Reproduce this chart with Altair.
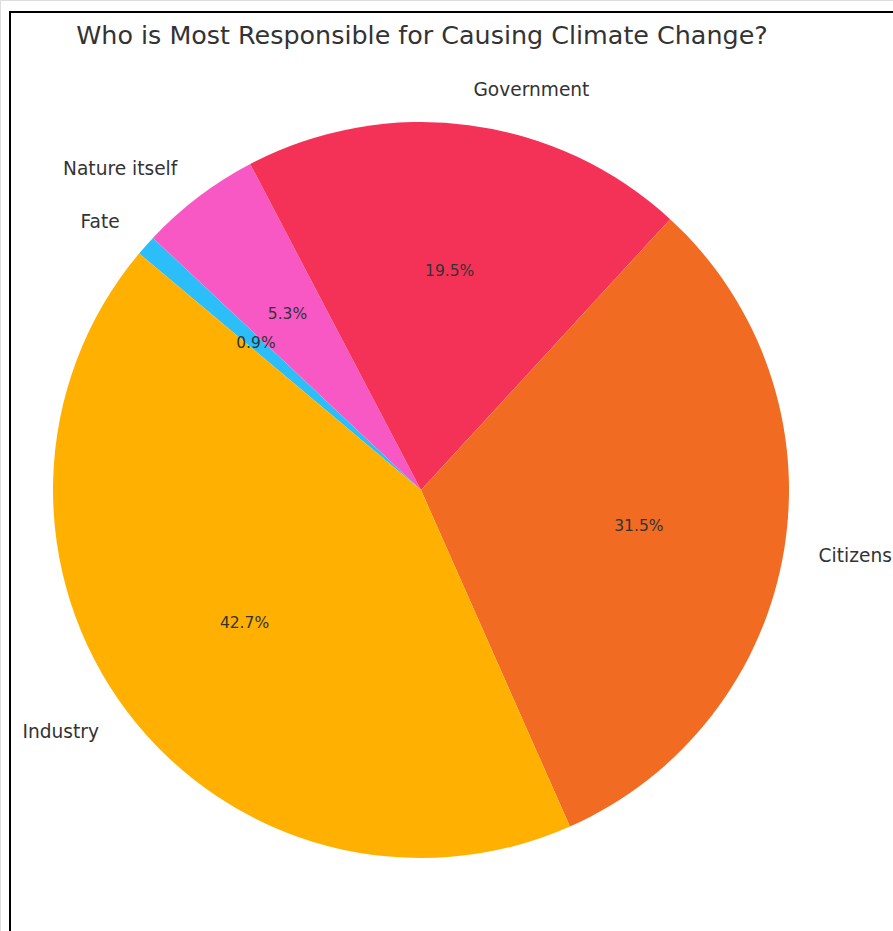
import math
import altair as alt
import pandas as pd

categories = ["Fate", "Nature itself", "Government", "Citizens", "Industry"]
shares = [0.9, 5.3, 19.5, 31.5, 42.7]
colors = ["#2BBEF9", "#F858C4", "#F43257", "#F26B22", "#FFB000"]
sides = ["right", "right", "left", "left", "right"]
title_text = "Who is Most Responsible for Causing Climate Change?"

df = pd.DataFrame({
    "cat": categories,
    "share": shares,
    "ord": list(range(len(categories))),
    "pct": [f"{v:.1f}%" for v in shares],
    "side": sides,
})

CX, CY, R = 421, 490, 368
start = math.radians(90 - 140)
theta_scale = alt.Scale(range=[start, start + 2 * math.pi])
FONT = "DejaVu Sans"
TXT = "#333333"

base = alt.Chart(df).encode(
    theta=alt.Theta("share:Q", stack=True, scale=theta_scale),
    order=alt.Order("ord:Q"),
    x=alt.value(CX),
    y=alt.value(CY),
)

arcs = base.mark_arc(radius=R).encode(
    color=alt.Color("cat:N", scale=alt.Scale(domain=categories, range=colors), legend=None)
)

pct = base.mark_text(font=FONT, fontSize=15.5, color=TXT, baseline="middle", align="center").encode(
    radius=alt.value(R * 0.6), text="pct:N"
)

LR = 403
lab_l = base.mark_text(font=FONT, fontSize=18.6, color=TXT, baseline="middle", align="left").encode(
    radius=alt.value(LR),
    text="cat:N",
    opacity=alt.condition(alt.datum.side == "left", alt.value(1), alt.value(0)),
)
lab_r = base.mark_text(font=FONT, fontSize=18.6, color=TXT, baseline="middle", align="right").encode(
    radius=alt.value(LR),
    text="cat:N",
    opacity=alt.condition(alt.datum.side == "right", alt.value(1), alt.value(0)),
)

title = alt.Chart(pd.DataFrame({"t": [title_text]})).mark_text(
    font=FONT, fontSize=25.4, color=TXT, align="center", baseline="middle"
).encode(x=alt.value(422), y=alt.value(36), text="t:N")

frame = alt.Chart(pd.DataFrame({"a": [0]})).mark_rect(
    fill="transparent", stroke="black", strokeWidth=2
).encode(x=alt.value(10), y=alt.value(12), x2=alt.value(960), y2=alt.value(1000))

chart = alt.layer(arcs, pct, lab_l, lab_r, title, frame).properties(
    width=893, height=931, padding=0, autosize=alt.AutoSizeParams(type="none")
).configure_view(stroke=None).configure(background="white")

chart.save("out.html", embed_options={"renderer": "svg", "actions": False})
